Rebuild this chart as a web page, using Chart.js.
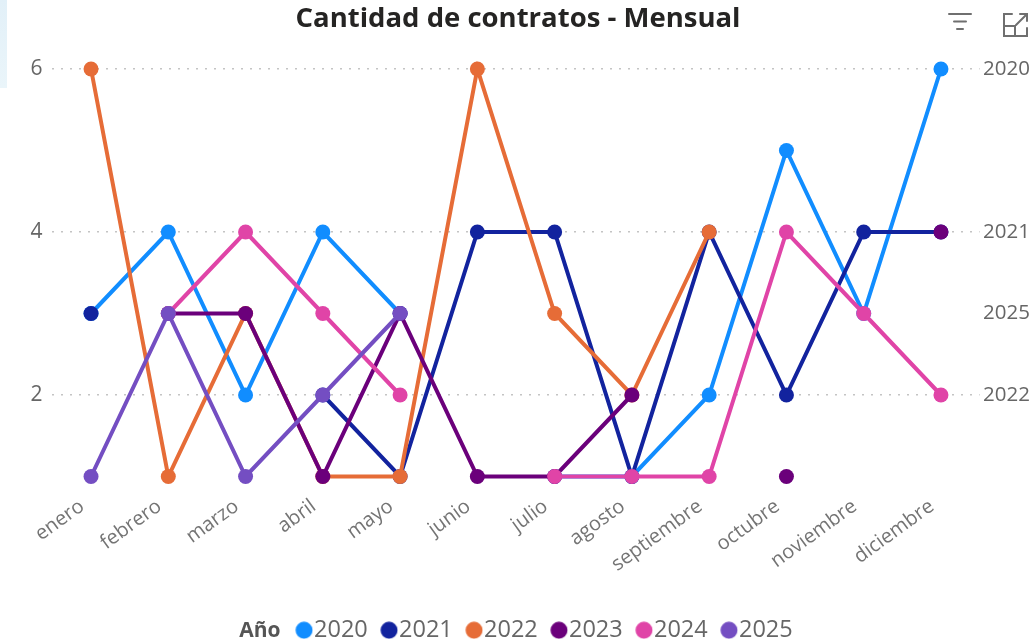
<!DOCTYPE html>
<html><head><meta charset="utf-8">
<script src="https://cdn.jsdelivr.net/npm/chart.js@4/dist/chart.umd.min.js"></script>
<style>
html,body{margin:0;padding:0;background:#fff;}
#wrap{position:relative;width:1034px;height:643px;overflow:hidden;background:#fff;}
canvas{position:absolute;left:0;top:0;}
#strip{position:absolute;left:0;top:0;width:7px;height:88px;background:linear-gradient(#e2f0f8,#eaf5fa);}
#icons{position:absolute;left:0;top:0;}
</style></head>
<body><div id="wrap"><div id="strip"></div><canvas id="c" width="1034" height="643"></canvas>
<svg id="icons" width="1034" height="50" xmlns="http://www.w3.org/2000/svg">
<g stroke="#6f6f6f" stroke-width="2" fill="none" stroke-linecap="round">
<line x1="949" y1="14" x2="971" y2="14"/>
<line x1="954" y1="21.5" x2="966" y2="21.5"/>
<line x1="957" y1="29" x2="963" y2="29"/>
<path d="M1012 14 H1004 V36 H1027 V28"/>
<path d="M1004 26 H1015 V36"/>
<path d="M1016 25 L1027 14 M1020 14 H1027 V21"/>
</g></svg></div>
<script>
const months = ['enero','febrero','marzo','abril','mayo','junio','julio','agosto','septiembre','octubre','noviembre','diciembre'];
const years = ['2020','2021','2022','2023','2024','2025'];
const v2020 = [3, 4, 2, 4, 3, null, 1, 1, 2, 5, 3, 6];
const v2021 = [3, null, null, 2, 1, 4, 4, 1, 4, 2, 4, 4];
const v2022 = [6, 1, 3, 1, 1, 6, 3, 2, 4, null, null, null];
const v2023 = [null, 3, 3, 1, 3, 1, 1, 2, null, 1, null, 4];
const v2024 = [null, 3, 4, 3, 2, null, 1, 1, 1, 4, 3, 2];
const v2025 = [1, 3, 1, 2, 3, null, null, null, null, null, null, null];
const seriesValues = [v2020, v2021, v2022, v2023, v2024, v2025];
const colors = ['#118DFF', '#12239E', '#E66C37', '#6B007B', '#E044A7', '#744EC2'];
const leftTickValues = [2, 4, 6];
const endLabelValues = [2, 3, 4, 6];
const endLabelTexts = ['2022', '2025', '2021', '2020'];
const titleText = 'Cantidad de contratos - Mensual';
const legendTitle = 'Año';

const FONT = "'Open Sans', sans-serif";

function makeDot(color) {
  const c = document.createElement('canvas');
  c.width = 40; c.height = 18;
  const x = c.getContext('2d');
  x.fillStyle = color;
  x.beginPath(); x.arc(30.75, 9, 8.5, 0, Math.PI * 2); x.fill();
  return c;
}
const blank = document.createElement('canvas'); blank.width = 1; blank.height = 1;

const overlay = {
  id: 'overlay',
  afterDraw(chart) {
    const ctx = chart.ctx;
    ctx.save();
    ctx.font = "bold 27.5px " + FONT;
    ctx.fillStyle = '#252423';
    ctx.textAlign = 'center';
    ctx.textBaseline = 'middle';
    ctx.fillText(titleText, 518, 19);
    const hb = chart.legend.legendHitBoxes;
    if (hb && hb[1]) {
      const circleLeft = hb[1].left + 9 + 10.75 - 8.5;
      ctx.font = "bold 21px " + FONT;
      ctx.fillStyle = '#555555';
      ctx.textAlign = 'right';
      ctx.fillText(legendTitle, circleLeft - 15, hb[1].top + hb[1].height / 2 + 1);
    }
    ctx.restore();
  }
};

function build() {
  const dots = colors.map(makeDot);
  new Chart(document.getElementById('c'), {
    type: 'line',
    data: {
      labels: months,
      datasets: years.map((y, i) => ({
        label: y,
        data: seriesValues[i],
        borderColor: colors[i],
        backgroundColor: colors[i],
        borderWidth: 4,
        pointRadius: 7.5,
        pointHoverRadius: 7.5,
        pointBorderWidth: 0,
        tension: 0,
        spanGaps: false,
        clip: false,
        order: years.length - 1 - i,
        yAxisID: 'y'
      }))
    },
    options: {
      responsive: false,
      animation: false,
      devicePixelRatio: 1,
      events: [],
      layout: { padding: { top: 69, left: 0, right: 0, bottom: 0 } },
      plugins: {
        title: { display: false },
        tooltip: { enabled: false },
        legend: {
          position: 'bottom',
          maxHeight: 26,
          labels: {
            usePointStyle: true,
            boxWidth: 18,
            boxHeight: 18,
            padding: 1.5,
            color: '#666666',
            font: { family: FONT, size: 23.5 },
            generateLabels: () => [
              { text: '\u2002', fillStyle: 'rgba(0,0,0,0)', strokeStyle: 'rgba(0,0,0,0)', lineWidth: 0, pointStyle: blank, fontColor: 'rgba(0,0,0,0)', hidden: false, datasetIndex: -1 }
            ].concat(years.map((y, i) => ({
              text: y, fillStyle: colors[i], strokeStyle: colors[i], lineWidth: 0, pointStyle: dots[i], fontColor: '#666666', hidden: false, datasetIndex: i
            })))
          }
        }
      },
      scales: {
        x: {
          type: 'category',
          offset: true,
          grid: { display: false, drawTicks: false, tickLength: 0 },
          border: { display: false },
          ticks: {
            autoSkip: false, maxRotation: 36, minRotation: 36,
            color: '#747474', font: { family: FONT, size: 20 }, padding: 18, labelOffset: -9
          },
          afterFit: (s) => { s.height = 140.5; }
        },
        y: {
          position: 'left',
          min: 1, max: 6,
          afterBuildTicks: (s) => { s.ticks = leftTickValues.map(v => ({ value: v })); },
          grid: { color: '#c4c4c4', lineWidth: 1.5, drawTicks: false, tickLength: 0 },
          border: { display: false, dash: [2, 7] },
          ticks: { color: '#666666', font: { family: FONT, size: 21 }, padding: 10 },
          afterFit: (s) => { s.width = 52.4; }
        },
        y2: {
          position: 'right',
          min: 1, max: 6,
          afterBuildTicks: (s) => { s.ticks = endLabelValues.map(v => ({ value: v })); },
          grid: { display: false, drawTicks: false, tickLength: 0 },
          border: { display: false },
          ticks: {
            autoSkip: false, color: '#666666', font: { family: FONT, size: 20.5 }, padding: 3.5,
            callback: (v) => { const k = endLabelValues.indexOf(v); return k >= 0 ? endLabelTexts[k] : ''; }
          },
          afterFit: (s) => { s.width = 54.4; }
        }
      }
    },
    plugins: [overlay]
  });
}

const loads = ["16px 'Open Sans'", "bold 16px 'Open Sans'"].map(f => document.fonts.load(f));
Promise.all(loads).then(build, build);
</script>
</body></html>
